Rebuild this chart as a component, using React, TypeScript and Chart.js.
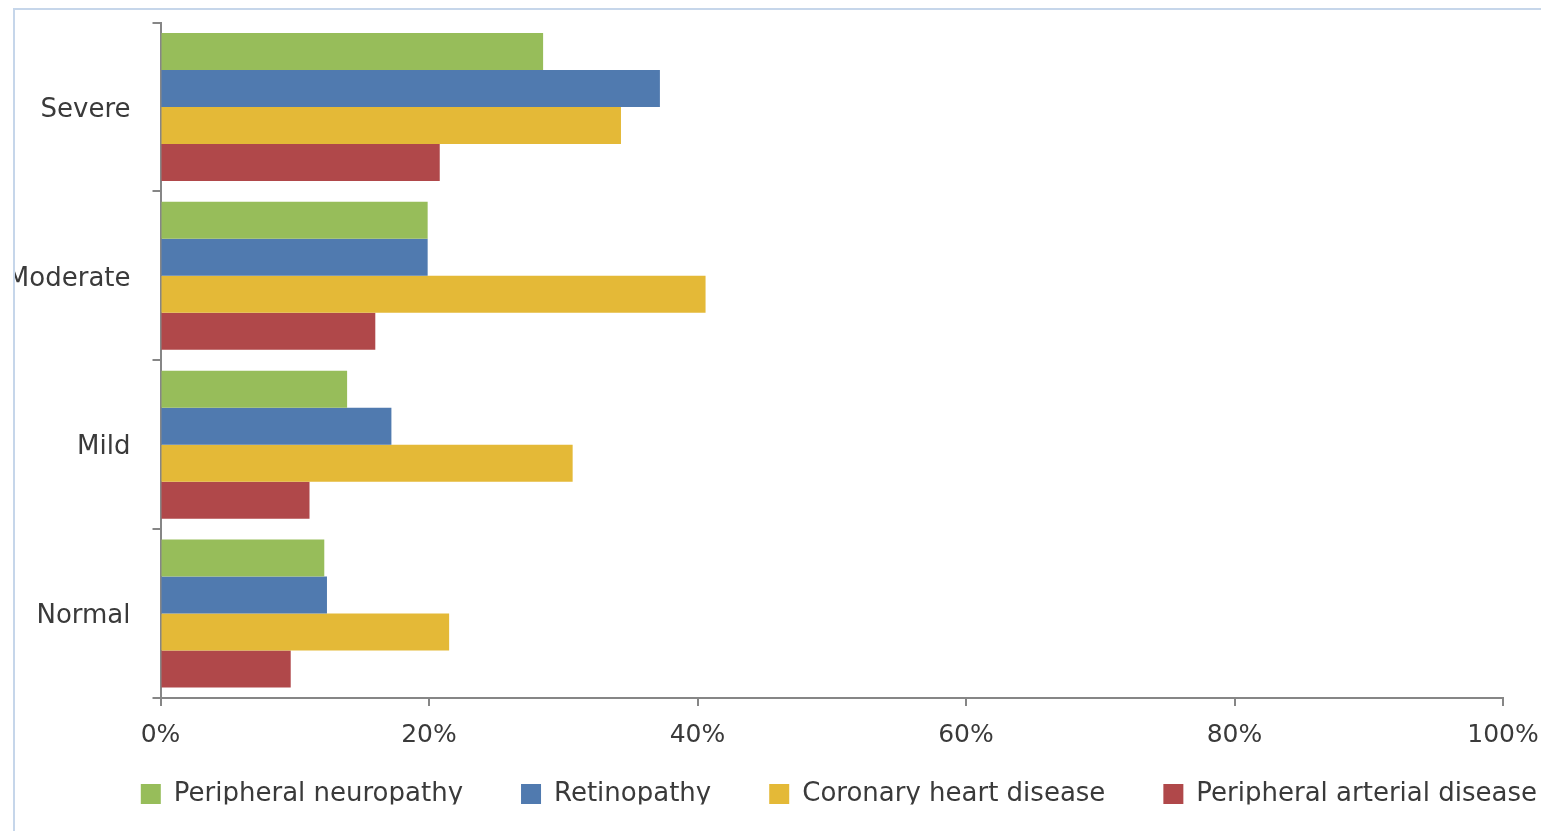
import React, { useEffect, useRef } from 'react';
import { Chart, registerables } from 'chart.js';

Chart.register(...registerables);

// Severity groups, top to bottom
const categories = ['Severe', 'Moderate', 'Mild', 'Normal'];

// Prevalence (%) of each complication per severity group
const peripheralNeuropathy = [28.5, 19.9, 13.9, 12.2];
const retinopathy = [37.2, 19.9, 17.2, 12.4];
const coronaryHeartDisease = [34.3, 40.6, 30.7, 21.5];
const peripheralArterialDisease = [20.8, 16.0, 11.1, 9.7];

const seriesNames = [
  'Peripheral neuropathy',
  'Retinopathy',
  'Coronary heart disease',
  'Peripheral arterial disease',
];

// Percentage axis tick marks
const xTickValues = [0, 20, 40, 60, 80, 100];

const FONT_FAMILY = '"DejaVu Sans", "Liberation Sans", sans-serif';
const AXIS_GREY = '#868686';
const TEXT_COLOR = '#3a3a3a';
const COLORS = ['#97bd5a', '#507aaf', '#e4b937', '#b0484a'];

// Pulls the legend row up so it sits just under the percentage labels
const legendLift = {
  id: 'legendLift',
  afterLayout(chart: any) {
    const legend = chart.legend;
    if (!legend) return;
    legend.top -= 26.5;
    legend.bottom -= 26.5;
  },
};

export default function App() {
  const canvasRef = useRef<HTMLCanvasElement>(null);

  useEffect(() => {
    if (!canvasRef.current) return;
    const seriesValues = [
      peripheralNeuropathy,
      retinopathy,
      coronaryHeartDisease,
      peripheralArterialDisease,
    ];

    const chart = new Chart(canvasRef.current, {
      type: 'bar',
      data: {
        labels: categories,
        datasets: seriesNames.map((name, i) => ({
          label: name,
          data: seriesValues[i],
          backgroundColor: COLORS[i],
          borderWidth: 0,
          categoryPercentage: 0.877,
          barPercentage: 1,
        })),
      },
      options: {
        indexAxis: 'y',
        responsive: false,
        animation: false,
        layout: { padding: { left: 0, right: 0, top: 12.5, bottom: 0 } },
        scales: {
          x: {
            min: 0,
            max: 100,
            afterBuildTicks: (scale: any) => {
              scale.ticks = xTickValues.map((v) => ({ value: v }));
            },
            ticks: {
              callback: (v: any) => `${v}%`,
              font: { family: FONT_FAMILY, size: 25 },
              color: TEXT_COLOR,
              padding: 14.5,
              maxRotation: 0,
              autoSkip: false,
            },
            grid: {
              drawOnChartArea: false,
              drawTicks: true,
              tickLength: 8,
              color: AXIS_GREY,
              lineWidth: 2,
            },
            border: { color: AXIS_GREY, width: 2 },
            afterFit: (scale: any) => {
              scale.height = 51.5;
            },
          },
          y: {
            ticks: {
              font: { family: FONT_FAMILY, size: 26 },
              color: TEXT_COLOR,
              padding: 22,
              labelOffset: 3,
            },
            grid: {
              drawOnChartArea: false,
              drawTicks: true,
              tickLength: 8,
              color: AXIS_GREY,
              lineWidth: 2,
            },
            border: { color: AXIS_GREY, width: 2 },
            afterFit: (scale: any) => {
              scale.width = 145.5;
              scale.paddingTop = 0;
              scale.paddingBottom = 0;
            },
          },
          // empty right-hand gutter so the legend row can run past the plot
          gutter: {
            type: 'linear',
            position: 'right',
            display: true,
            ticks: { display: false },
            grid: { display: false },
            border: { display: false },
            afterFit: (scale: any) => {
              scale.width = 92;
            },
          },
        },
        plugins: {
          legend: {
            position: 'bottom',
            align: 'end',
            maxHeight: 81.5,
            labels: {
              boxWidth: 20,
              boxHeight: 20,
              padding: 58,
              color: TEXT_COLOR,
              font: { family: FONT_FAMILY, size: 26 },
            },
          },
          tooltip: { enabled: false },
        },
      } as any,
      plugins: [legendLift],
    });

    return () => chart.destroy();
  }, []);

  return (
    <div
      style={{
        position: 'absolute',
        left: 13,
        top: 8,
        width: 1526,
        height: 821,
        borderTop: '2px solid #c6d6ea',
        borderLeft: '2px solid #c6d6ea',
        overflow: 'hidden',
        background: '#ffffff',
      }}
    >
      <canvas ref={canvasRef} width={1580} height={821} style={{ display: 'block' }} />
    </div>
  );
}
